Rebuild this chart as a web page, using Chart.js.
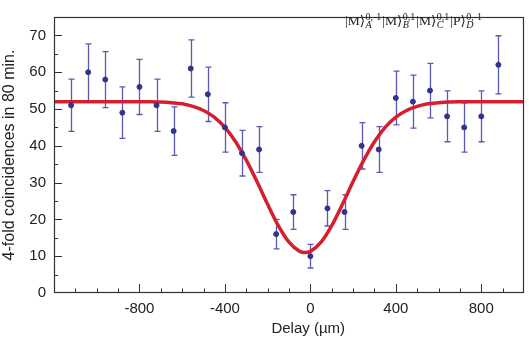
<!DOCTYPE html>
<html>
<head>
<meta charset="utf-8">
<script src="https://cdn.jsdelivr.net/npm/chart.js@4.4.1/dist/chart.umd.min.js"></script>
<style>
  html, body { margin: 0; padding: 0; background: #fff; }
</style>
</head>
<body>
<canvas id="chart" width="529" height="342"></canvas>
<script>
// measured coincidences vs. delay
const delays = [-1120, -1040, -960, -880, -800, -720, -640, -560, -480, -400, -320, -240, -160,
                -80, 0, 80, 160, 240, 320, 400, 480, 560, 640, 720, 800, 880];
const counts = [51, 60, 58, 49, 56, 51, 44, 61, 54, 45, 38, 39, 16,
                22, 10, 23, 22, 40, 39, 53, 52, 55, 48, 45, 48, 62];
const errors = [7.1, 7.7, 7.6, 7.0, 7.5, 7.1, 6.6, 7.8, 7.4, 6.7, 6.2, 6.2, 4.0,
                4.7, 3.2, 4.8, 4.7, 6.3, 6.2, 7.3, 7.2, 7.4, 6.9, 6.7, 6.9, 7.9];

// fitted dip
const fitDelays = [-1200, -750, -700, -650, -600, -550, -500, -450, -400, -350, -300, -250, -200,
                   -150, -100, -50, -25, 0, 50, 100, 150, 200, 250, 300, 350, 400, 450, 500,
                   550, 600, 650, 700, 1000];
const fitCounts = [52, 52, 51.9, 51.7, 51.4, 50.7, 49.6, 47.8, 45.0, 41.1, 36.1, 30.3, 24.1,
                   18.3, 13.8, 11.3, 11.0, 11.3, 13.8, 18.3, 24.1, 30.3, 36.1, 41.1, 45.0, 47.8,
                   49.6, 50.7, 51.4, 51.7, 51.9, 52, 52];

const xTickLabels = [-800, -400, 0, 400, 800];
const yTickLabels = [0, 10, 20, 30, 40, 50, 60, 70];

const labelParts = [
    { ket: '|M\u27E9', sup: '0,-1', sub: 'A' },
    { ket: '|M\u27E9', sup: '0,1', sub: 'B' },
    { ket: '|M\u27E9', sup: '0,1', sub: 'C' },
    { ket: '|P\u27E9', sup: '0,-1', sub: 'D' }
];

const axisColor = '#333';
const sans = "'Liberation Sans', Arial, sans-serif";
const serif = "'Liberation Serif', 'DejaVu Serif', serif";

const extras = {
    id: 'extras',
    beforeDatasetsDraw(chart) {
        const { ctx, scales: { x, y } } = chart;
        ctx.save();
        ctx.strokeStyle = '#5a5ab2';
        ctx.lineWidth = 1.3;
        delays.forEach((d, i) => {
            const px = Math.round(x.getPixelForValue(d)) + 0.5;
            const top = y.getPixelForValue(counts[i] + errors[i]);
            const bot = y.getPixelForValue(counts[i] - errors[i]);
            ctx.beginPath();
            ctx.moveTo(px, top); ctx.lineTo(px, bot);
            ctx.moveTo(px - 3, top); ctx.lineTo(px + 3, top);
            ctx.moveTo(px - 3, bot); ctx.lineTo(px + 3, bot);
            ctx.stroke();
        });
        ctx.restore();
    },
    afterDraw(chart) {
        const { ctx, chartArea: a, scales: { x, y } } = chart;
        ctx.save();
        ctx.strokeStyle = axisColor;
        ctx.lineWidth = 1.2;
        ctx.strokeRect(a.left + 0.5, a.top + 0.5, a.right - a.left - 1, a.bottom - a.top - 1);

        // inward ticks
        ctx.lineWidth = 1;
        ctx.beginPath();
        for (let v = 5; v < 75; v += 5) {
            const py = Math.round(y.getPixelForValue(v)) + 0.5;
            const len = v % 10 === 0 ? 8 : 4;
            ctx.moveTo(a.left, py); ctx.lineTo(a.left + len, py);
        }
        for (let v = -1100; v < 1000; v += 100) {
            const px = Math.round(x.getPixelForValue(v)) + 0.5;
            const len = v % 400 === 0 ? 9 : 4.5;
            ctx.moveTo(px, a.bottom); ctx.lineTo(px, a.bottom - len);
        }
        ctx.stroke();

        // x axis title
        ctx.fillStyle = '#222';
        ctx.font = '15px ' + sans;
        ctx.textAlign = 'center';
        ctx.textBaseline = 'alphabetic';
        ctx.fillText('Delay (\u00B5m)', x.getPixelForValue(-10), 333);

        // state label, top right
        const big = '13.5px ' + serif, small = '10px ' + serif;
        let tx = a.right - 179;
        const base = 25;
        ctx.textAlign = 'left';
        labelParts.forEach(p => {
            ctx.font = big;
            ctx.fillText(p.ket, tx, base);
            const kw = ctx.measureText(p.ket).width;
            ctx.font = small;
            const sw = ctx.measureText(p.sup).width;
            ctx.fillText(p.sup, tx + kw + 0.5, base - 5);
            ctx.font = 'italic ' + small;
            const bw = ctx.measureText(p.sub).width;
            ctx.fillText(p.sub, tx + kw + 0.5, base + 3);
            tx += kw + Math.max(sw, bw) + 1.5;
        });
        ctx.restore();
    }
};

new Chart(document.querySelector('#chart').getContext('2d'), {
    type: 'scatter',
    data: {
        datasets: [
            {
                label: 'fit',
                data: fitDelays.map((d, i) => ({ x: d, y: fitCounts[i] })),
                showLine: true,
                borderColor: '#d51f2f',
                borderWidth: 3.5,
                pointRadius: 0,
                cubicInterpolationMode: 'monotone',
                order: 2
            },
            {
                label: 'data',
                data: delays.map((d, i) => ({ x: d, y: counts[i] })),
                backgroundColor: '#33338f',
                borderColor: '#33338f',
                pointRadius: 2.5,
                order: 1
            }
        ]
    },
    options: {
        responsive: false,
        animation: false,
        devicePixelRatio: 1,
        layout: { padding: { top: 1, right: 2, left: 0, bottom: 0 } },
        plugins: { legend: { display: false }, tooltip: { enabled: false } },
        scales: {
            x: {
                type: 'linear',
                min: -1200,
                max: 1000,
                grid: { display: false, drawTicks: false },
                border: { display: false },
                afterBuildTicks: s => { s.ticks = xTickLabels.map(v => ({ value: v })); },
                afterFit: s => { s.height = 49; },
                ticks: {
                    padding: 7,
                    color: '#222',
                    font: { family: sans, size: 15 },
                    maxRotation: 0
                }
            },
            y: {
                min: 0,
                max: 75,
                grid: { display: false, drawTicks: false },
                border: { display: false },
                afterBuildTicks: s => { s.ticks = yTickLabels.map(v => ({ value: v })); },
                afterFit: s => { s.width = 54; },
                ticks: {
                    padding: 8,
                    color: '#222',
                    font: { family: sans, size: 15 }
                },
                title: {
                    display: true,
                    text: '4-fold coincidences in 80 min.',
                    color: '#222',
                    padding: { top: 0, bottom: 0 },
                    font: { family: sans, size: 16 }
                }
            }
        }
    },
    plugins: [extras]
});
</script>
</body>
</html>
